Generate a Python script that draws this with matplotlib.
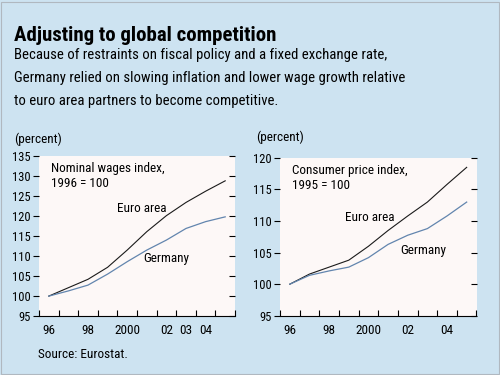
import numpy as np
import matplotlib
matplotlib.use("Agg")
import matplotlib.pyplot as plt
from matplotlib.patches import Rectangle

plt.rcParams['font.family'] = ['Roboto Condensed', 'Liberation Sans Narrow', 'Roboto', 'DejaVu Sans']

# data (annual, plotted at mid-year)
years = np.arange(1996, 2006) + 0.5
wages_euro = [100, 102.1, 104.2, 107.2, 111.5, 116.1, 120.1, 123.4, 126.2, 128.8]
wages_germany = [100, 101.3, 102.75, 105.5, 108.6, 111.5, 114.0, 116.9, 118.6, 119.8]
cpi_euro = [100, 101.6, 102.7, 103.8, 106.0, 108.5, 110.8, 113.0, 115.8, 118.5]
cpi_germany = [100, 101.4, 102.1, 102.7, 104.2, 106.3, 107.75, 108.8, 110.8, 113.0]

left_labels = {1996: '96', 1998: '98', 2000: '2000', 2002: '02', 2003: '03', 2004: '04'}
right_labels = {1996: '96', 1998: '98', 2000: '2000', 2002: '02', 2004: '04'}

subtitle_lines = ["Because of restraints on fiscal policy and a fixed exchange rate,",
                  "Germany relied on slowing inflation and lower wage growth relative",
                  "to euro area partners to become competitive."]

BG = '#cde3f1'
PLOT_BG = '#fdf8f7'
EURO_C = '#1a1a1a'
GER_C = '#6285ae'
FS = 9.5
TICK_FS = 9


def setup_axes(ax, yticks, ylim, labels):
    ax.set_facecolor(PLOT_BG)
    ax.set_xlim(1996, 2006)
    ax.set_ylim(*ylim)
    for s in ['top', 'right', 'left']:
        ax.spines[s].set_visible(False)
    ax.spines['bottom'].set_linewidth(0.8)
    ax.set_xticks(np.arange(1996, 2007))
    ax.set_xticklabels([])
    ax.set_xticks([y + 0.5 for y in labels], minor=True)
    ax.set_xticklabels(list(labels.values()), minor=True)
    ax.tick_params(axis='x', which='major', direction='in', length=4, width=0.8)
    ax.tick_params(axis='x', which='minor', length=0, labelsize=TICK_FS + 0.5, pad=6)
    ax.set_yticks(yticks)
    ax.tick_params(axis='y', direction='out', length=4, width=0.8, labelsize=TICK_FS, pad=2)
    # inward ticks on the right side
    axr = ax.twinx()
    axr.set_ylim(*ylim)
    axr.set_yticks(yticks)
    axr.tick_params(axis='y', direction='in', length=4, width=0.8, labelright=False)
    for s in axr.spines.values():
        s.set_visible(False)
    axr.patch.set_visible(False)


fig = plt.figure(figsize=(5, 3.75), dpi=100, facecolor=BG)
fig.patches.append(Rectangle((0.002, 0.003), 0.995, 0.993, transform=fig.transFigure,
                             fill=False, edgecolor='#b0b8c0', linewidth=0.8))

fig.text(0.028, 0.905, 'Adjusting to global competition', fontsize=15,
         fontweight='bold', va='center')
for i, line in enumerate(subtitle_lines):
    fig.text(0.028, 0.853 - i * 0.0613, line, fontsize=10.6, va='center')

# left panel: nominal wages
ax1 = fig.add_axes([0.078, 0.157, 0.392, 0.427])
setup_axes(ax1, np.arange(95, 136, 5), (95, 135), left_labels)
ax1.plot(years, wages_euro, color=EURO_C, lw=0.8)
ax1.plot(years, wages_germany, color=GER_C, lw=0.9)
ax1.text(1996.6, 133.5, 'Nominal wages index,\n1996 = 100', fontsize=FS, va='top', linespacing=1.15)
ax1.text(2000.0, 122.0, 'Euro area', fontsize=FS, va='center')
ax1.text(2001.3, 109.3, 'Germany', fontsize=FS, va='center')
fig.text(0.028, 0.629, '(percent)', fontsize=FS, va='center')

# right panel: consumer prices
ax2 = fig.add_axes([0.56, 0.158, 0.393, 0.421])
setup_axes(ax2, np.arange(95, 121, 5), (95, 120), right_labels)
ax2.plot(years, cpi_euro, color=EURO_C, lw=0.8)
ax2.plot(years, cpi_germany, color=GER_C, lw=0.9)
ax2.text(1996.6, 119.0, 'Consumer price index,\n1995 = 100', fontsize=FS, va='top', linespacing=1.15)
ax2.text(1999.3, 110.5, 'Euro area', fontsize=FS, va='center')
ax2.text(2002.1, 105.4, 'Germany', fontsize=FS, va='center')
fig.text(0.512, 0.633, '(percent)', fontsize=FS, va='center')

fig.text(0.076, 0.056, 'Source: Eurostat.', fontsize=FS, va='center')

fig.savefig('out.png', dpi=100, facecolor=BG)
